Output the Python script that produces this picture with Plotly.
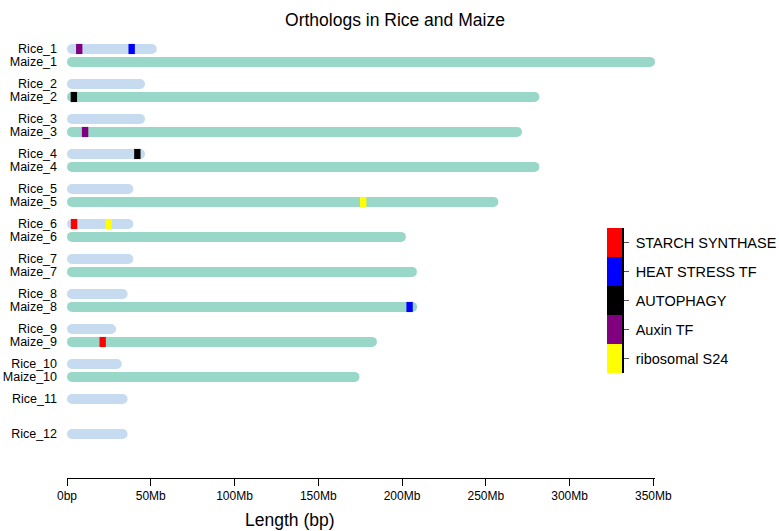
import plotly.graph_objects as go

# ---- data (lengths in Mb) ----
rice_names = ["Rice_1", "Rice_2", "Rice_3", "Rice_4", "Rice_5", "Rice_6",
              "Rice_7", "Rice_8", "Rice_9", "Rice_10", "Rice_11", "Rice_12"]
rice_lengths = [53.6, 46.6, 46.6, 46.6, 39.6, 39.6, 39.6, 36.2, 29.3, 32.7, 36.2, 36.2]

maize_names = ["Maize_1", "Maize_2", "Maize_3", "Maize_4", "Maize_5",
               "Maize_6", "Maize_7", "Maize_8", "Maize_9", "Maize_10"]
maize_lengths = [351.0, 282.0, 271.6, 282.0, 257.5, 202.3, 208.9, 209.0, 185.0, 174.6]

marker_chrom = ["Rice_1", "Rice_1", "Maize_2", "Maize_3", "Rice_4",
                "Maize_5", "Rice_6", "Rice_6", "Maize_8", "Maize_9"]
marker_pos = [7.3, 38.6, 4.1, 10.8, 42.0, 176.8, 4.2, 24.9, 204.5, 21.3]
marker_gene = ["Auxin TF", "HEAT STRESS TF", "AUTOPHAGY", "Auxin TF", "AUTOPHAGY",
               "ribosomal S24", "STARCH SYNTHASE", "ribosomal S24", "HEAT STRESS TF",
               "STARCH SYNTHASE"]

gene_types = ["ribosomal S24", "Auxin TF", "AUTOPHAGY", "HEAT STRESS TF", "STARCH SYNTHASE"]
gene_colors = ["#ffff00", "#800080", "#000000", "#0000ff", "#ff0000"]

tick_vals = [0, 50, 100, 150, 200, 250, 300, 350]
tick_text = ["0bp", "50Mb", "100Mb", "150Mb", "200Mb", "250Mb", "300Mb", "350Mb"]

# ---- layout helpers ----
FONT = "Liberation Sans, Arial, sans-serif"
MAIZE_OFFSET = 0.371
BAR_W = 0.29
MARK_W = 3.8

rice_y = [i for i in range(len(rice_names))]
maize_y = [i + MAIZE_OFFSET for i in range(len(maize_names))]
ypos = dict(zip(rice_names, rice_y))
ypos.update(zip(maize_names, maize_y))
color_of = dict(zip(gene_types, gene_colors))

fig = go.Figure()

fig.add_trace(go.Bar(
    x=rice_lengths, y=rice_y, base=0, orientation="h", width=BAR_W,
    marker=dict(color="#c6dbef", cornerradius=5, line=dict(width=0)),
    showlegend=False, hoverinfo="skip"))
fig.add_trace(go.Bar(
    x=maize_lengths, y=maize_y, base=0, orientation="h", width=BAR_W,
    marker=dict(color="#99d8c9", cornerradius=5, line=dict(width=0)),
    showlegend=False, hoverinfo="skip"))

fig.add_trace(go.Bar(
    x=[MARK_W] * len(marker_pos),
    y=[ypos[c] for c in marker_chrom],
    base=[p - MARK_W / 2 for p in marker_pos],
    orientation="h", width=BAR_W,
    marker=dict(color=[color_of[g] for g in marker_gene], line=dict(width=0)),
    showlegend=False, hoverinfo="skip"))

# legend drawn as a small stacked bar on its own axes
fig.add_trace(go.Bar(
    x=[1] * len(gene_types), y=gene_types, orientation="h", width=1,
    marker=dict(color=gene_colors, line=dict(width=0)),
    xaxis="x2", yaxis="y2", showlegend=False, hoverinfo="skip"))

tickv = rice_y[:] + maize_y[:]
tickt = rice_names[:] + maize_names[:]

fig.update_layout(
    width=779, height=531,
    margin=dict(l=67, r=124, t=40, b=53, autoexpand=False),
    paper_bgcolor="white", plot_bgcolor="white",
    barmode="overlay",
    font=dict(family=FONT, size=12, color="#000"),
    title=dict(text="Orthologs in Rice and Maize", x=0.507, xanchor="center",
               y=1 - 20 / 531, yanchor="middle", xref="container", yref="container",
               font=dict(size=17.5, color="#000"), automargin=False),
    xaxis=dict(range=[0, 351], tickvals=tick_vals, ticktext=tick_text,
               showline=True, linecolor="#000", linewidth=1, ticks="outside",
               ticklen=7, tickcolor="#000", showgrid=False, zeroline=False,
               tickfont=dict(size=12), automargin=False),
    yaxis=dict(range=[12.257, -0.257], tickvals=tickv, ticktext=tickt,
               showgrid=False, zeroline=False, showline=False, ticks="",
               tickfont=dict(size=12.5), ticklabelstandoff=9, automargin=False),
    xaxis2=dict(domain=[540 / 588, 555 / 588], range=[0, 1], visible=False,
                anchor="y2"),
    yaxis2=dict(domain=[(478 - 373) / 438, (478 - 228) / 438], anchor="x2",
                side="right", type="category", categoryorder="array",
                categoryarray=gene_types, range=[-0.5, 4.5],
                showline=True, linecolor="#000", linewidth=1.5,
                ticks="outside", ticklen=5, tickcolor="#555",
                ticklabelstandoff=4,
                showgrid=False, zeroline=False, tickfont=dict(size=14.5),
                automargin=False),
    annotations=[dict(text="Length (bp)", x=(290 - 67) / 588, y=(478 - 520) / 438,
                      xref="paper", yref="paper", xanchor="center", yanchor="middle",
                      showarrow=False, font=dict(size=17.5, color="#000"))],
)

fig.write_html("out.html", config={"displayModeBar": False},
               post_script="document.body.style.margin='0';document.body.style.overflow='hidden';")
